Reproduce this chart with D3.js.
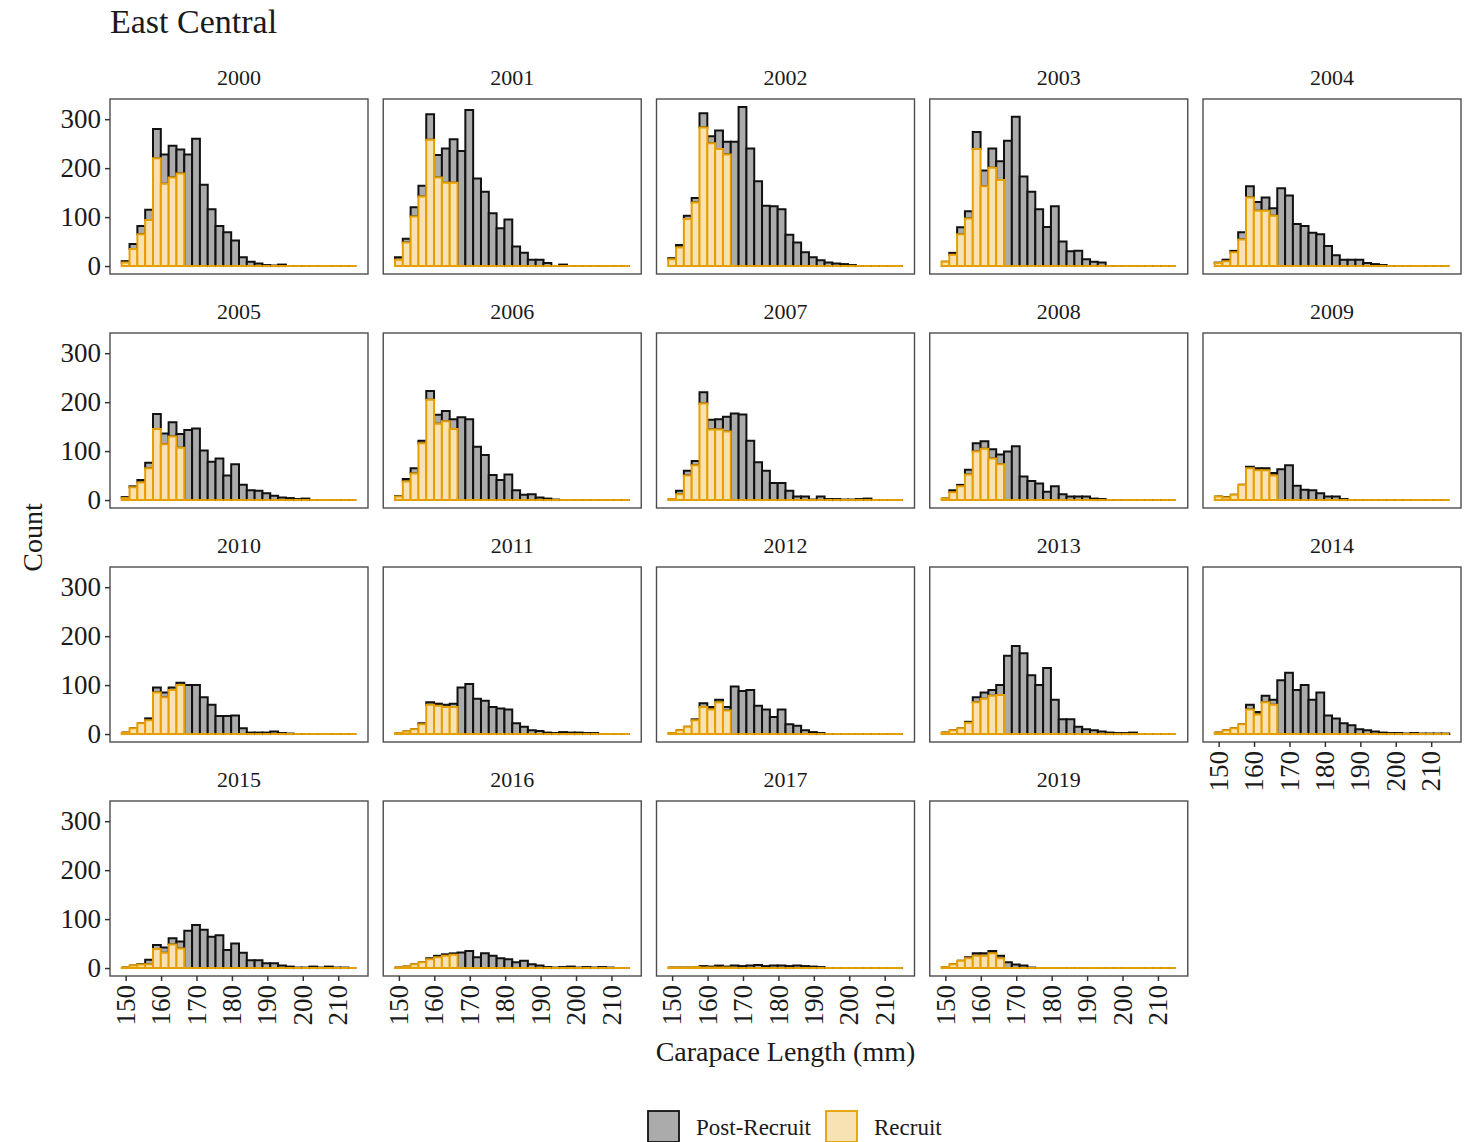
<!DOCTYPE html>
<html>
<head>
<meta charset="utf-8">
<script src="https://cdn.jsdelivr.net/npm/d3@7"></script>
<style>
  body { margin: 0; background: #fff; }
  svg { display: block; }
  text { font-family: "Liberation Serif", "Times New Roman", serif; fill: #1a1a1a; }
</style>
</head>
<body>
<svg id="chart" width="1471" height="1142"></svg>
<script>
// ---- data: counts per carapace-length bin (30 bins spanning 150–214 mm) ----
const years = ["2000","2001","2002","2003","2004","2005","2006","2007","2008","2009",
               "2010","2011","2012","2013","2014","2015","2016","2017","2019"];
const lengthMin = 150;
const lengthMax = 214;
const binCount = 30;
const xTicks = [150, 160, 170, 180, 190, 200, 210];
const yTicks = [0, 100, 200, 300];
const groups = ["Post-Recruit", "Recruit"];

const recruit2000 = [7,35,65,94,220,168,181,189,0,0,0,0,0,0,0,0,0,0,0,0,0,0,0,0,0,0,0,0,0,0];
const post2000    = [3,10,17,21,60,60,65,49,228,260,166,116,82,69,52,18,9,5,2,1,3,0,0,0,0,0,0,0,0,0];
const recruit2001 = [13,48,101,142,258,181,170,170,0,0,0,0,0,0,0,0,0,0,0,0,0,0,0,0,0,0,0,0,0,0];
const post2001    = [5,8,19,22,52,46,70,89,235,319,179,152,108,77,95,40,27,13,13,6,0,3,0,0,0,0,0,0,0,0];
const recruit2002 = [14,38,96,130,283,251,239,228,0,0,0,0,0,0,0,0,0,0,0,0,0,0,0,0,0,0,0,0,0,0];
const post2002    = [2,5,7,9,29,14,38,26,254,325,240,173,123,122,116,64,48,28,18,12,7,5,4,2,0,0,0,0,0,0];
const recruit2003 = [9,23,65,97,239,163,201,176,0,0,0,0,0,0,0,0,0,0,0,0,0,0,0,0,0,0,0,0,0,0];
const post2003    = [0,4,14,15,35,32,39,38,256,305,183,152,116,80,122,50,30,31,14,9,7,0,0,0,0,0,0,0,0,0];
const recruit2004 = [6,10,28,54,140,113,113,103,0,0,0,0,0,0,0,0,0,0,0,0,0,0,0,0,0,0,0,0,0,0];
const post2004    = [1,3,3,15,23,18,27,15,159,144,86,82,68,65,41,22,13,13,13,6,4,2,0,0,0,0,0,0,0,0];
const recruit2005 = [4,26,36,65,145,114,130,107,0,0,0,0,0,0,0,0,0,0,0,0,0,0,0,0,0,0,0,0,0,0];
const post2005    = [2,2,5,11,31,22,29,28,143,146,101,78,85,50,73,31,20,19,14,9,5,4,2,3,0,0,0,0,0,0];
const recruit2006 = [7,38,54,116,205,156,161,145,0,0,0,0,0,0,0,0,0,0,0,0,0,0,0,0,0,0,0,0,0,0];
const post2006    = [1,5,11,5,18,18,21,20,169,165,109,92,51,41,52,20,11,12,5,3,1,0,0,0,0,0,0,0,0,0];
const recruit2007 = [2,12,50,71,197,144,144,140,0,0,0,0,0,0,0,0,0,0,0,0,0,0,0,0,0,0,0,0,0,0];
const post2007    = [0,7,10,9,23,20,21,30,177,175,121,77,60,35,35,19,7,7,1,7,2,2,1,1,2,3,0,0,0,0];
const recruit2008 = [3,16,28,52,99,105,85,73,0,0,0,0,0,0,0,0,0,0,0,0,0,0,0,0,0,0,0,0,0,0];
const post2008    = [0,4,3,10,17,15,19,20,99,110,48,39,34,17,28,12,7,7,7,3,2,0,0,0,0,0,0,0,0,0];
const recruit2009 = [7,5,11,31,65,61,61,50,0,0,0,0,0,0,0,0,0,0,0,0,0,0,0,0,0,0,0,0,0,0];
const post2009    = [0,1,0,0,3,4,4,5,63,71,29,21,20,14,7,7,2,0,0,0,0,0,0,0,0,0,0,0,0,0];
const recruit2010 = [3,12,22,28,85,75,90,100,0,0,0,0,0,0,0,0,0,0,0,0,0,0,0,0,0,0,0,0,0,0];
const post2010    = [0,0,0,4,10,10,5,5,100,100,75,60,37,37,38,12,3,3,3,5,2,1,0,0,0,0,0,0,0,0];
const recruit2011 = [2,5,10,20,60,58,55,55,0,0,0,0,0,0,0,0,0,0,0,0,0,0,0,0,0,0,0,0,0,0];
const post2011    = [0,0,0,2,5,4,5,7,95,102,72,68,55,52,50,22,15,8,6,3,2,4,3,3,2,2,0,0,0,0];
const recruit2012 = [2,8,15,28,55,50,65,48,0,0,0,0,0,0,0,0,0,0,0,0,0,0,0,0,0,0,0,0,0,0];
const post2012    = [0,0,0,2,8,5,5,7,97,88,90,58,50,35,50,20,17,8,4,2,0,0,0,0,0,0,0,0,0,0];
const recruit2013 = [3,8,12,23,65,72,78,80,0,0,0,0,0,0,0,0,0,0,0,0,0,0,0,0,0,0,0,0,0,0];
const post2013    = [0,0,0,2,10,13,12,20,160,180,165,120,100,135,70,30,30,15,10,8,5,3,2,2,3,0,0,0,0,0];
const recruit2014 = [3,8,12,20,50,40,65,60,0,0,0,0,0,0,0,0,0,0,0,0,0,0,0,0,0,0,0,0,0,0];
const post2014    = [0,0,0,0,10,5,13,10,110,125,90,100,70,85,38,32,22,18,10,8,5,3,2,2,1,2,1,1,1,1];
const recruit2015 = [1,5,7,8,39,31,48,40,0,0,0,0,0,0,0,0,0,0,0,0,0,0,0,0,0,0,0,0,0,0];
const post2015    = [0,0,1,9,8,11,13,14,76,88,78,64,67,37,50,31,16,16,10,10,5,3,1,1,3,1,3,1,1,0];
const recruit2016 = [1,3,8,12,18,22,25,27,0,0,0,0,0,0,0,0,0,0,0,0,0,0,0,0,0,0,0,0,0,0];
const post2016    = [0,0,0,0,2,3,3,3,32,35,22,30,25,20,18,12,15,8,5,2,1,2,3,1,2,1,2,1,0,0];
const recruit2017 = [1,1,1,2,1,1,1,1,0,0,0,0,0,0,0,0,0,0,0,0,0,0,0,0,0,0,0,0,0,0];
const post2017    = [0,0,0,0,3,2,4,2,5,4,5,6,4,5,5,4,5,4,3,2,0,0,0,0,0,0,0,0,0,0];
const recruit2019 = [2,8,15,20,25,25,30,20,0,0,0,0,0,0,0,0,0,0,0,0,0,0,0,0,0,0,0,0,0,0];
const post2019    = [0,0,0,2,5,5,5,5,12,7,5,1,0,0,0,0,0,0,0,0,0,0,0,0,0,0,0,0,0,0];

const recruitSeries = [recruit2000,recruit2001,recruit2002,recruit2003,recruit2004,recruit2005,recruit2006,
  recruit2007,recruit2008,recruit2009,recruit2010,recruit2011,recruit2012,recruit2013,recruit2014,
  recruit2015,recruit2016,recruit2017,recruit2019];
const postSeries = [post2000,post2001,post2002,post2003,post2004,post2005,post2006,post2007,post2008,
  post2009,post2010,post2011,post2012,post2013,post2014,post2015,post2016,post2017,post2019];

// ---- styling ----
const fills   = { "Post-Recruit": "#ababab", "Recruit": "#f8e2b3" };
const strokes = { "Post-Recruit": "#111111", "Recruit": "#e69f00" };

// ---- layout ----
const W = 1471, H = 1142;
const nCols = 5;
const panelW = 258, panelH = 175;
const colStep = 273.25, rowStep = 234;
const left0 = 110, top0 = 99;

const svg = d3.select("#chart");
svg.append("rect").attr("width", W).attr("height", H).attr("fill", "#fff");

// histogram bins: 30 bins whose centres run from lengthMin to lengthMax
const binW = (lengthMax - lengthMin) / (binCount - 1);
const edges = d3.range(binCount + 1).map(i => lengthMin - binW / 2 + i * binW);
const span = edges[binCount] - edges[0];

const x = d3.scaleLinear()
  .domain([edges[0] - 0.05 * span, edges[binCount] + 0.05 * span])
  .range([0, panelW]);

const totals = recruitSeries.flatMap((r, j) => r.map((v, i) => v + postSeries[j][i]));
const yMax = d3.max(totals);
const y = d3.scaleLinear()
  .domain([-0.05 * yMax, 1.05 * yMax])
  .range([panelH, 0]);

// stacked rows: Recruit at the base, Post-Recruit on top
function stackYear(j) {
  const rows = d3.range(binCount).map(i => ({
    x0: edges[i], x1: edges[i + 1],
    "Recruit": recruitSeries[j][i], "Post-Recruit": postSeries[j][i]
  }));
  return d3.stack().keys(["Recruit", "Post-Recruit"])(rows);
}

// bars as closed paths so empty bins still show their outline on the baseline
function barPath(d) {
  const xa = x(d.data.x0), xb = x(d.data.x1);
  const ya = y(d[0]), yb = y(d[1]);
  return `M${xa},${ya}V${yb}H${xb}V${ya}Z`;
}

// title
svg.append("text").attr("x", 110).attr("y", 33)
  .attr("font-size", 34).text("East Central");

years.forEach((yr, j) => {
  const col = j % nCols, row = Math.floor(j / nCols);
  const gx = left0 + col * colStep, gy = top0 + row * rowStep;
  const g = svg.append("g").attr("transform", `translate(${gx},${gy})`);

  // strip label
  g.append("text").attr("x", panelW / 2).attr("y", -22)
    .attr("text-anchor", "middle").attr("dominant-baseline", "central")
    .attr("font-size", 22).text(yr);

  const layers = stackYear(j);
  // draw order: Post-Recruit first, Recruit last
  ["Post-Recruit", "Recruit"].forEach(key => {
    const layer = layers.find(l => l.key === key);
    g.append("g").selectAll("path").data(layer).join("path")
      .attr("d", barPath)
      .attr("fill", fills[key])
      .attr("stroke", strokes[key])
      .attr("stroke-width", 2)
      .attr("stroke-linejoin", "miter");
  });

  // panel border
  g.append("rect").attr("width", panelW).attr("height", panelH)
    .attr("fill", "none").attr("stroke", "#4d4d4d").attr("stroke-width", 1.4);

  // y axis on first column
  if (col === 0) {
    const ya = g.append("g").call(d3.axisLeft(y).tickValues(yTicks).tickSize(5).tickPadding(4));
    ya.select(".domain").remove();
    ya.selectAll(".tick line").attr("stroke", "#333").attr("stroke-width", 1.5);
    ya.selectAll(".tick text").attr("font-size", 27).attr("fill", "#4d4d4d")
      .attr("font-family", "Liberation Serif, serif");
  }

  // x axis on the lowest panel of each column
  const isBottom = (j + nCols >= years.length);
  if (isBottom) {
    const xa = g.append("g").attr("transform", `translate(0,${panelH})`)
      .call(d3.axisBottom(x).tickValues(xTicks).tickSize(5).tickPadding(4));
    xa.select(".domain").remove();
    xa.selectAll(".tick line").attr("stroke", "#333").attr("stroke-width", 1.5);
    xa.selectAll(".tick text")
      .attr("font-size", 27).attr("fill", "#4d4d4d")
      .attr("font-family", "Liberation Serif, serif")
      .attr("text-anchor", "end")
      .attr("transform", "rotate(-90)")
      .attr("x", -9).attr("y", 0).attr("dy", "0.32em");
  }
});

// axis titles
svg.append("text").attr("x", 785.5).attr("y", 1051)
  .attr("text-anchor", "middle").attr("dominant-baseline", "central")
  .attr("font-size", 28).text("Carapace Length (mm)");
svg.append("text").attr("transform", "translate(32,537.5) rotate(-90)")
  .attr("text-anchor", "middle").attr("dominant-baseline", "central")
  .attr("font-size", 28).text("Count");

// legend
const legendX = [647, 825];
groups.forEach((gname, i) => {
  const lg = svg.append("g").attr("transform", `translate(${legendX[i]},1110)`);
  lg.append("rect").attr("x", 1).attr("y", 1).attr("width", 31).attr("height", 31)
    .attr("fill", fills[gname]).attr("stroke", strokes[gname]).attr("stroke-width", 1.8);
  lg.append("text").attr("x", 49).attr("y", 17)
    .attr("dominant-baseline", "central").attr("font-size", 23).text(gname);
});
</script>
</body>
</html>
